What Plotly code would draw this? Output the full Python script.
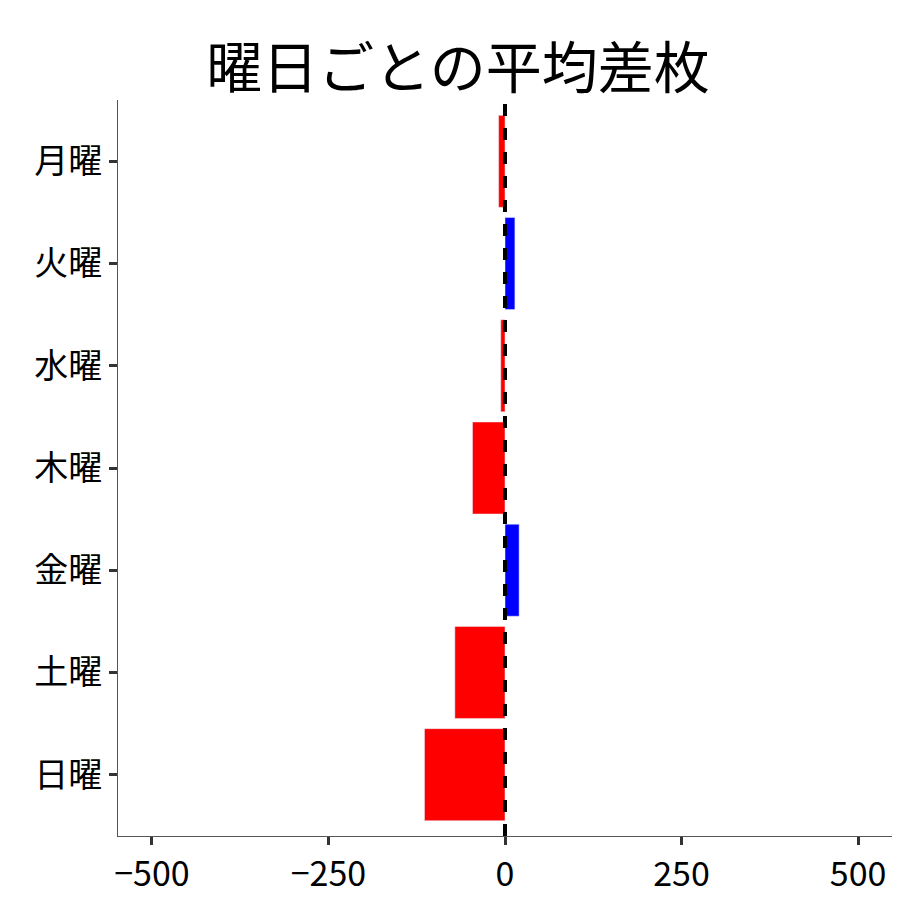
import plotly.graph_objects as go

days = ["月曜", "火曜", "水曜", "木曜", "金曜", "土曜", "日曜"]
values = [-9, 14, -6, -46, 20, -71, -114]
colors = ["blue" if v > 0 else "red" for v in values]
tickvals = [-500, -250, 0, 250, 500]

fig = go.Figure(go.Bar(x=values, y=days, orientation="h", marker_color=colors, width=0.9))
fig.add_shape(type="line", x0=0, x1=0, y0=0, y1=1, yref="paper", xref="x",
              line=dict(color="black", width=4, dash="dash"))
font = "Noto Sans CJK JP"
fig.update_layout(
    width=900, height=900, plot_bgcolor="white", paper_bgcolor="white",
    margin=dict(l=110, r=16, t=92, b=72, autoexpand=False),
    title=dict(text="曜日ごとの平均差枚", x=0.5, xanchor="center", y=0.955,
               font=dict(family=font, size=56, color="black")),
    font=dict(family=font, size=34, color="black"),
    showlegend=False,
)
fig.update_xaxes(range=[-548, 548], tickvals=tickvals,
                 showgrid=False, zeroline=False, showline=True, linecolor="#555", linewidth=1,
                 ticks="outside", ticklen=8, tickwidth=3, tickcolor="#333")
fig.update_yaxes(categoryorder="array", categoryarray=days[::-1], range=[-0.6, 6.6],
                 showgrid=False, zeroline=False, showline=True, linecolor="#555", linewidth=1,
                 ticks="outside", ticklen=8, tickwidth=3, tickcolor="#333")
fig.write_html("out.html")
